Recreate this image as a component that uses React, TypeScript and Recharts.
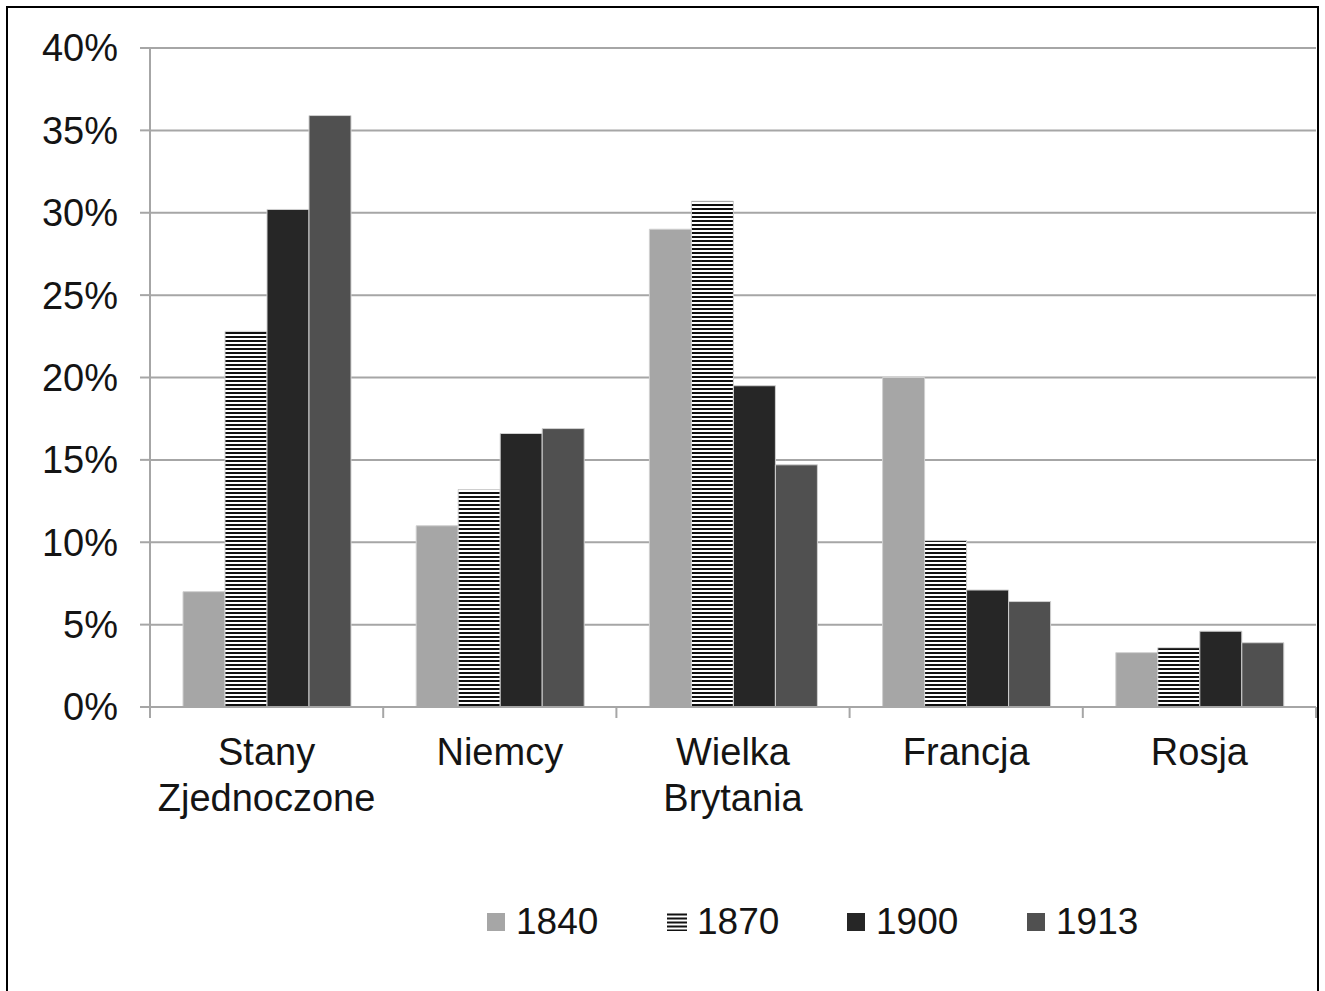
import React from 'react';
import { BarChart, Bar, XAxis, YAxis, CartesianGrid, Legend } from 'recharts';

const categories = ['Stany Zjednoczone', 'Niemcy', 'Wielka Brytania', 'Francja', 'Rosja'];
const years = ['1840', '1870', '1900', '1913'];
const values1840 = [7.0, 11.0, 29.0, 20.0, 3.3];
const values1870 = [22.8, 13.2, 30.7, 10.1, 3.6];
const values1900 = [30.2, 16.6, 19.5, 7.1, 4.6];
const values1913 = [35.9, 16.9, 14.7, 6.4, 3.9];
const yTicks = [0, 5, 10, 15, 20, 25, 30, 35, 40];

const FONT = '"Liberation Sans", Arial, Helvetica, sans-serif';
const GRID = '#a6a6a6';
const TEXT = '#141414';

const data = categories.map((c, i) => ({
  category: c,
  y1840: values1840[i],
  y1870: values1870[i],
  y1900: values1900[i],
  y1913: values1913[i],
}));

const seriesKeys = ['y1840', 'y1870', 'y1900', 'y1913'];
const seriesFills = ['#a6a6a6', 'url(#hatch1870)', '#262626', '#505050'];

function CategoryTick(props: any) {
  const { x, y, payload, index, visibleTicksCount } = props;
  const half = payload && typeof payload.offset === 'number' && payload.offset > 0 ? payload.offset : 116.6;
  const lines = String(payload.value).split(' ');
  const count = visibleTicksCount ?? categories.length;
  const last = index === count - 1;
  return (
    <g>
      <line x1={x - half} x2={x - half} y1={y} y2={y + 11} stroke={GRID} strokeWidth={2} />
      {last && <line x1={x + half} x2={x + half} y1={y} y2={y + 11} stroke={GRID} strokeWidth={2} />}
      <text x={x} y={y + 58} textAnchor="middle" fontSize={38} fontFamily={FONT} fill={TEXT}>
        {lines.map((l, i) => (
          <tspan key={i} x={x} dy={i === 0 ? 0 : 46}>
            {l}
          </tspan>
        ))}
      </text>
    </g>
  );
}

function LegendMarker({ idx }: { idx: number }) {
  if (idx === 1) {
    return (
      <svg width={20} height={18} style={{ marginRight: 10, display: 'block' }}>
        {[0, 1, 2, 3, 4].map((k) => (
          <rect key={k} x={0} y={k * 4 + 0.5} width={20} height={2} fill="#111" />
        ))}
      </svg>
    );
  }
  return (
    <svg width={18} height={18} style={{ marginRight: 11, display: 'block' }}>
      <rect x={0} y={0} width={18} height={18} fill={seriesFills[idx]} />
    </svg>
  );
}

const renderLegend = () => (
  <div style={{ display: 'flex', alignItems: 'center', fontFamily: FONT, fontSize: 37, color: TEXT, lineHeight: '44px' }}>
    {years.map((yr, i) => (
      <div key={yr} style={{ display: 'flex', alignItems: 'center', width: 180 }}>
        <LegendMarker idx={i} />
        <span>{yr}</span>
      </div>
    ))}
  </div>
);

export default function App() {
  return (
    <div style={{ position: 'fixed', left: 0, top: 0, width: 1325, height: 991, overflow: 'hidden', background: '#fff' }}>
      <div
        style={{
          position: 'absolute',
          left: 6,
          top: 6,
          width: 1313,
          height: 1100,
          border: '2.5px solid #000',
          boxSizing: 'border-box',
        }}
      />
      <div style={{ position: 'absolute', left: 0, top: 0 }}>
        <BarChart
          width={1325}
          height={991}
          data={data}
          margin={{ top: 48, right: 9, left: 0, bottom: 184 }}
          barCategoryGap={33}
          barGap={0}
        >
          <defs>
            <pattern id="hatch1870" width="8" height="4" patternUnits="userSpaceOnUse">
              <rect width="8" height="4" fill="#ffffff" />
              <rect width="8" height="2" fill="#111111" />
            </pattern>
          </defs>
          <CartesianGrid vertical={false} stroke={GRID} strokeWidth={2} />
          <XAxis
            dataKey="category"
            interval={0}
            tickSize={0}
            tickMargin={0}
            height={100}
            axisLine={{ stroke: GRID, strokeWidth: 2 }}
            tickLine={false}
            tick={<CategoryTick />}
          />
          <YAxis
            domain={[0, 40]}
            ticks={yTicks}
            interval={0}
            width={150}
            tickSize={10}
            tickMargin={22}
            tickFormatter={(v: number) => `${v}%`}
            axisLine={{ stroke: GRID, strokeWidth: 2 }}
            tickLine={{ stroke: GRID, strokeWidth: 2 }}
            tick={{ fontSize: 38, fontFamily: FONT, fill: TEXT }}
          />
          <Legend
            verticalAlign="middle"
            content={renderLegend}
            wrapperStyle={{ left: 487, top: 900, width: 760, height: 44 }}
          />
          {seriesKeys.map((k, i) => (
            <Bar
              key={k}
              dataKey={k}
              name={years[i]}
              fill={seriesFills[i]}
              stroke="#d0d0d0"
              strokeWidth={1}
              isAnimationActive={false}
            />
          ))}
        </BarChart>
      </div>
    </div>
  );
}
